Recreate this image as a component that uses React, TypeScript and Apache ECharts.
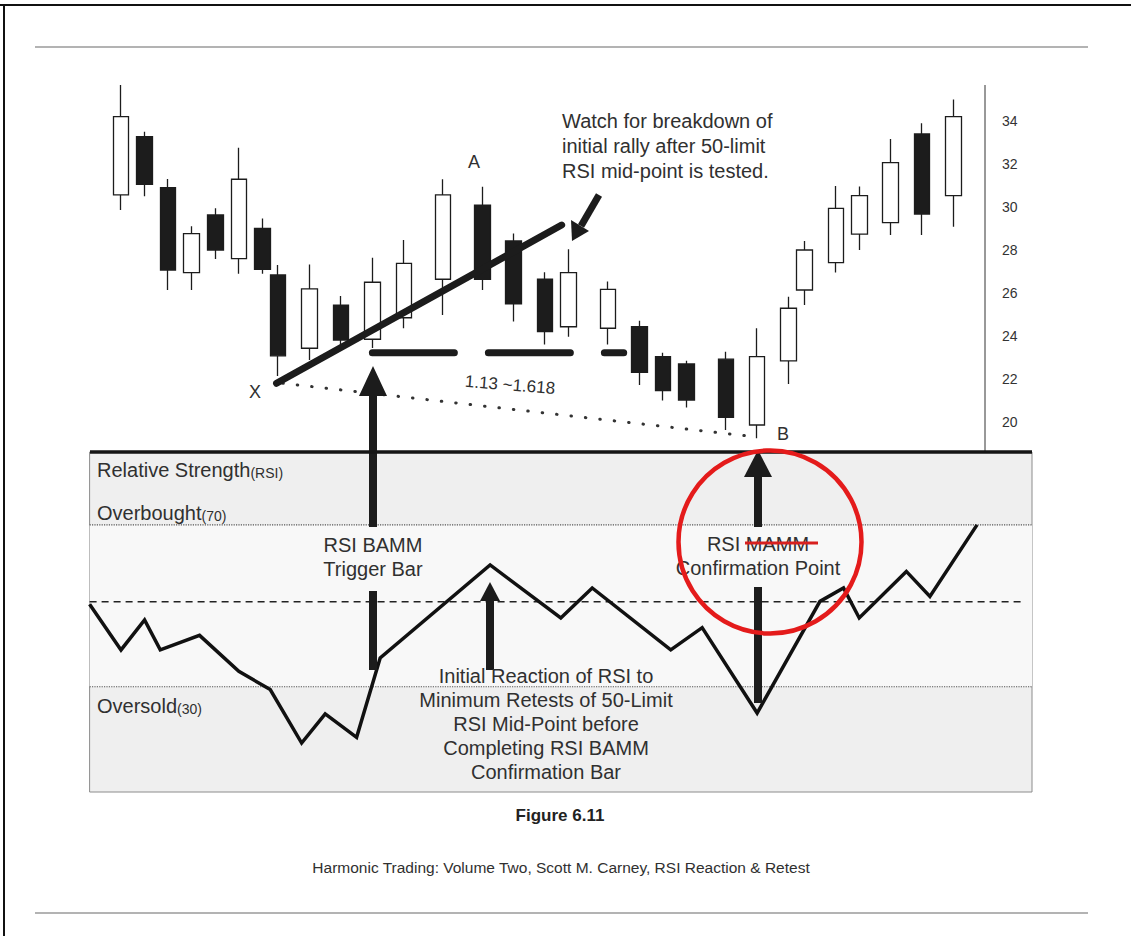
import React, { useEffect, useRef } from 'react';
import * as echarts from 'echarts';

// ---- price candles (slot = position on the bar axis) ----
const candleSlots = [0, 3, 6, 9, 12, 15, 18, 20, 24, 28, 32, 36, 41, 46, 50, 54, 57, 62, 66, 69, 72, 77, 81, 85, 87, 91, 94, 98, 102, 106];
const opens = [30.56, 33.27, 30.9, 26.95, 29.63, 27.6, 29.0, 26.84, 23.43, 25.44, 23.85, 24.85, 26.64, 30.09, 28.42, 26.64, 24.43, 24.36, 24.43, 23.04, 22.7, 22.92, 19.86, 22.84, 26.14, 27.41, 28.74, 29.27, 33.4, 30.53];
const closes = [34.2, 31.05, 27.07, 28.76, 28.0, 31.29, 27.1, 23.08, 26.19, 23.81, 26.5, 27.38, 30.56, 26.64, 25.49, 24.2, 26.95, 26.17, 22.31, 21.46, 21.02, 20.22, 23.04, 25.29, 28.0, 29.94, 30.53, 32.06, 29.67, 34.2];
const lows = [29.86, 30.5, 26.14, 26.14, 27.58, 26.9, 26.9, 22.14, 22.88, 23.5, 23.44, 24.36, 24.98, 26.14, 24.67, 23.61, 23.97, 23.61, 21.72, 21.0, 20.68, 19.63, 19.24, 21.77, 25.44, 26.95, 28.0, 28.7, 28.7, 29.08];
const highs = [35.67, 33.5, 31.3, 29.1, 29.94, 32.76, 29.47, 27.3, 27.33, 25.86, 27.64, 28.47, 31.29, 30.94, 28.77, 26.96, 28.03, 26.53, 24.71, 23.22, 22.85, 23.27, 24.36, 25.83, 28.42, 30.98, 30.95, 33.16, 33.89, 35.0];
const priceTicks = [20, 22, 24, 26, 28, 30, 32, 34];

// ---- RSI line ----
const rsiSlots = [-4, 0, 3, 5, 10, 15, 19, 23, 26, 30, 33, 47, 56, 60, 70, 74, 81, 89, 92, 94, 100, 103, 109];
const rsiValues = [50.4, 39.1, 46.5, 39.1, 42.7, 33.8, 29.3, 16.1, 23.3, 17.5, 37.1, 60.1, 47.0, 54.4, 39.1, 44.6, 23.5, 51.1, 54.4, 47.0, 58.5, 52.3, 70.0];
const overbought = 70;
const oversold = 30;
const midLevel = 51;

// ---- price annotations [slot, price] ----
const trendLine = [[19.8, 21.8], [56.1, 29.16]];
const supportLine = [[32, 23.22], [64, 23.22]];
const xbLine = [[20.6, 21.8], [81, 19.3]];

const FONT = '"Liberation Sans", Arial, Helvetica, sans-serif';
const TXT = '#303030';
const INK = '#1c1c1c';

function txt(text: string, x: number, y: number, size: number, align: string, extra: any = {}) {
  return {
    type: 'text',
    x,
    y,
    z: 20,
    silent: true,
    ...extra,
    style: {
      text,
      fill: TXT,
      fontSize: size,
      fontFamily: FONT,
      align,
      verticalAlign: 'middle',
      ...(extra.style || {}),
    },
  };
}

function richLabel(big: string, small: string, x: number, y: number) {
  return {
    type: 'text',
    x,
    y,
    z: 20,
    silent: true,
    style: {
      text: `{a|${big}}{b|${small}}`,
      verticalAlign: 'middle',
      align: 'left',
      rich: {
        a: { fontSize: 20, fontFamily: FONT, fill: TXT, lineHeight: 24, verticalAlign: 'bottom' },
        b: { fontSize: 14, fontFamily: FONT, fill: TXT, lineHeight: 17, verticalAlign: 'bottom' },
      },
    },
  };
}

function rect(x: number, y: number, w: number, h: number) {
  return { type: 'rect', z: 15, silent: true, shape: { x, y, width: w, height: h }, style: { fill: INK } };
}
function tri(points: number[][]) {
  return { type: 'polygon', z: 15, silent: true, shape: { points }, style: { fill: INK } };
}
function hline(x1: number, y1: number, x2: number, y2: number, stroke: string, w: number, z = 15) {
  return { type: 'line', z, silent: true, shape: { x1, y1, x2, y2 }, style: { stroke, lineWidth: w } };
}

export default function App() {
  const ref = useRef<HTMLDivElement>(null);

  useEffect(() => {
    if (!ref.current) return;
    const chart = echarts.init(ref.current, null, { renderer: 'svg' });

    const candleData = candleSlots.map((s, i) => [s, opens[i], closes[i], lows[i], highs[i]]);
    const rsiData = rsiSlots.map((s, i) => [s, rsiValues[i]]);

    const annotationText = [
      'Initial Reaction of RSI to',
      'Minimum Retests of 50-Limit',
      'RSI Mid-Point before',
      'Completing RSI BAMM',
      'Confirmation Bar',
    ];
    const watchText = ['Watch for breakdown of', 'initial rally after 50-limit', 'RSI mid-point is tested.'];

    const elements: any[] = [
      // frame
      hline(0, 5, 1131, 5, '#111', 2, 1),
      hline(4, 5, 4, 936, '#111', 2, 1),
      hline(35, 47, 1088, 47, '#9a9a9a', 1.5, 1),
      hline(35, 913, 1088, 913, '#9a9a9a', 1.5, 1),
      // price axis line
      hline(985, 85, 985, 452, '#333', 1, 5),
      // separator between panels
      hline(90, 452, 1032, 452, '#151515', 3.5, 16),
      // arrow 1 (trigger bar)
      rect(369, 394, 8, 133),
      rect(369, 591, 8, 79),
      tri([[359, 396], [387, 396], [373, 366]]),
      // arrow 2 (initial reaction)
      rect(486, 599, 8, 71),
      tri([[480, 601], [500, 601], [490, 582]]),
      // arrow 3 (confirmation point)
      rect(754, 474, 8, 53),
      rect(754, 587, 8, 116),
      tri([[744, 477], [772, 477], [758, 450]]),
      // diagonal arrow
      { type: 'line', z: 15, silent: true, shape: { x1: 599, y1: 195, x2: 581, y2: 226 }, style: { stroke: INK, lineWidth: 7 } },
      tri([[572, 241], [589, 231], [571, 220]]),
      // point labels
      txt('A', 474, 162, 18, 'center'),
      txt('X', 255, 392, 18, 'center'),
      txt('B', 783, 434, 18, 'center'),
      txt('1.13 ~1.618', 510, 385, 17, 'center', { rotation: -0.08 }),
      // RSI panel labels
      richLabel('Relative Strength', '(RSI)', 97, 468),
      richLabel('Overbought', '(70)', 97, 511),
      richLabel('Oversold', '(30)', 97, 704),
      txt('RSI BAMM', 373, 545, 20, 'center'),
      txt('Trigger Bar', 373, 569, 20, 'center'),
      txt('RSI MAMM', 758, 544, 20, 'center'),
      txt('Confirmation Point', 758, 568, 20, 'center'),
      hline(745, 543, 818, 543, '#d8201f', 3, 21),
      {
        type: 'circle', z: 22, silent: true,
        shape: { cx: 770, cy: 542, r: 91.5 },
        style: { fill: 'rgba(0,0,0,0)', stroke: '#e41b1b', lineWidth: 4.5 },
      },
      // captions
      txt('Figure 6.11', 560, 815, 17, 'center', { style: { fontWeight: 'bold', fill: '#222' } }),
      txt('Harmonic Trading: Volume Two, Scott M. Carney, RSI Reaction & Retest', 561, 867, 15.5, 'center'),
    ];
    annotationText.forEach((t, i) => elements.push(txt(t, 546, 676 + i * 24, 20, 'center')));
    watchText.forEach((t, i) => elements.push(txt(t, 562, 121 + i * 25, 20, 'left')));

    const option: any = {
      animation: false,
      backgroundColor: '#ffffff',
      grid: [
        { left: 89.6, top: 78, width: 895.4, height: 387, show: false },
        {
          left: 89.6, top: 452, width: 942.4, height: 340, show: true,
          backgroundColor: '#efefef', borderColor: '#8c8c8c', borderWidth: 1,
        },
      ],
      xAxis: [
        { type: 'value', gridIndex: 0, min: -4, max: 110, show: false },
        { type: 'value', gridIndex: 1, min: -4, max: 116, show: false },
      ],
      yAxis: [
        {
          type: 'value', gridIndex: 0, position: 'right', min: 18, max: 36, interval: 2,
          axisLine: { show: false }, axisTick: { show: false }, splitLine: { show: false },
          axisLabel: {
            color: '#333', fontSize: 14, margin: 17, fontFamily: FONT,
            formatter: (v: number) => (priceTicks.indexOf(v) >= 0 ? String(v) : ''),
          },
        },
        { type: 'value', gridIndex: 1, min: 4, max: 88, show: false },
      ],
      series: [
        {
          type: 'candlestick',
          xAxisIndex: 0, yAxisIndex: 0,
          data: candleData,
          barWidth: 16,
          clip: false,
          silent: true,
          z: 3,
          itemStyle: {
            color: '#ffffff', color0: INK,
            borderColor: INK, borderColor0: INK, borderWidth: 1.3,
          },
        },
        {
          type: 'line', xAxisIndex: 0, yAxisIndex: 0, data: xbLine, symbol: 'none', silent: true, z: 4,
          lineStyle: { color: '#333', width: 3, type: [0.5, 14], cap: 'round' },
        },
        {
          type: 'line', xAxisIndex: 0, yAxisIndex: 0, data: supportLine, symbol: 'none', silent: true, z: 4,
          lineStyle: { color: INK, width: 7, type: [82, 34], cap: 'round' },
        },
        {
          type: 'line', xAxisIndex: 0, yAxisIndex: 0, data: trendLine, symbol: 'none', silent: true, z: 5,
          lineStyle: { color: INK, width: 7, cap: 'round' },
        },
        {
          type: 'line', xAxisIndex: 1, yAxisIndex: 1, data: [[-4, overbought], [116, overbought]],
          symbol: 'none', silent: true, z: 2,
          lineStyle: { color: '#555', width: 1.2, type: 'dotted' },
        },
        {
          type: 'line', xAxisIndex: 1, yAxisIndex: 1, data: [[-4, oversold], [116, oversold]],
          symbol: 'none', silent: true, z: 2,
          lineStyle: { color: '#555', width: 1.2, type: 'dotted' },
        },
        {
          type: 'line', xAxisIndex: 1, yAxisIndex: 1, data: [[-4, midLevel], [114.7, midLevel]],
          symbol: 'none', silent: true, z: 2,
          lineStyle: { color: '#222', width: 1.5, type: [7, 5] },
        },
        {
          type: 'line', xAxisIndex: 1, yAxisIndex: 1, data: rsiData,
          symbol: 'none', silent: true, z: 6,
          lineStyle: { color: '#111', width: 3.5, join: 'miter' },
          markArea: {
            silent: true,
            itemStyle: { color: '#f8f8f8' },
            data: [[{ yAxis: oversold }, { yAxis: overbought }]],
          },
        },
      ],
      graphic: { elements },
    };

    chart.setOption(option);
    return () => chart.dispose();
  }, []);

  return (
    <div
      ref={ref}
      style={{ position: 'absolute', left: 0, top: 0, width: 1131, height: 936, background: '#fff' }}
    />
  );
}
